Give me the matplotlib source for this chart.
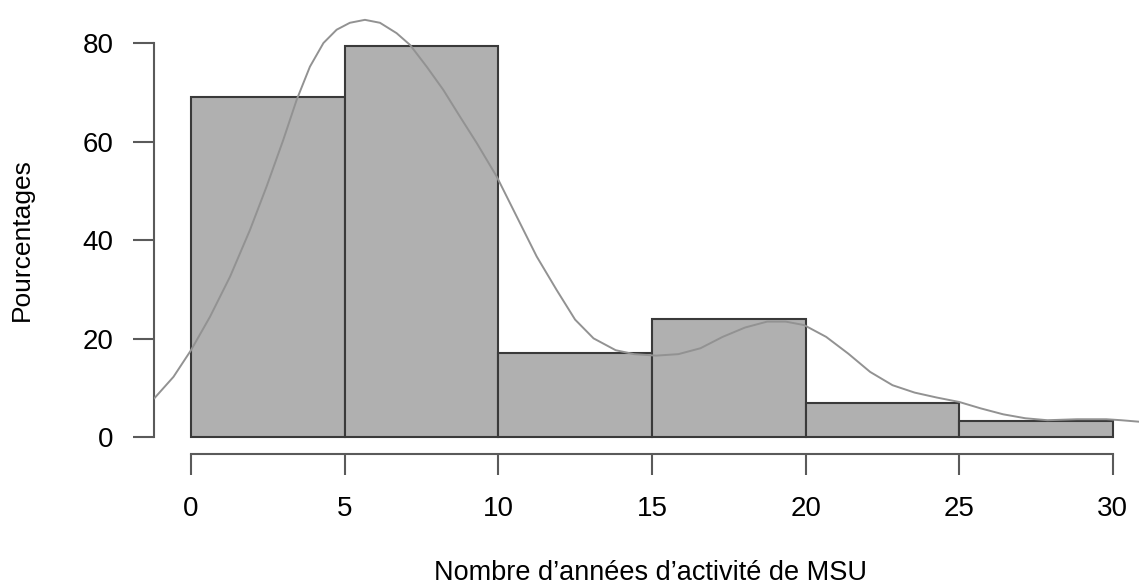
import matplotlib
matplotlib.use("Agg")
import matplotlib.pyplot as plt

plt.rcParams['font.family'] = ['Liberation Sans', 'DejaVu Sans']

# Histogram (bins of 5 years)
bin_edges = [0, 5, 10, 15, 20, 25, 30]
percentages = [69.0, 79.4, 17.2, 24.0, 6.9, 3.3]

# Density curve (scaled to percentages)
curve_x = [-1.2, -0.57, 0.0, 0.62, 1.27, 1.92, 2.46, 3.0, 3.44, 3.87, 4.31, 4.74,
           5.17, 5.66, 6.15, 6.69, 7.13, 7.67, 8.21, 8.75, 9.30, 9.95, 10.6, 11.25,
           11.9, 12.5, 13.1, 13.82, 14.42, 15.14, 15.86, 16.58, 17.3, 18.03, 18.75,
           19.35, 19.95, 20.67, 21.39, 22.1, 22.83, 23.55, 24.27, 25.0, 25.7, 26.43,
           27.15, 27.87, 28.83, 29.79, 30.27, 30.85]
curve_y = [7.9, 12.3, 17.7, 24.5, 32.6, 42.1, 50.9, 60.3, 68.5, 75.2, 80.0, 82.7,
           84.1, 84.7, 84.1, 82.0, 79.6, 75.2, 70.5, 65.1, 59.7, 52.9, 44.8, 36.7,
           29.9, 23.9, 20.1, 17.7, 16.9, 16.6, 16.9, 18.1, 20.4, 22.3, 23.5,
           23.5, 22.8, 20.4, 17.0, 13.3, 10.6, 9.1, 8.1, 7.2, 5.9, 4.7,
           3.9, 3.5, 3.7, 3.7, 3.5, 3.2]

y_ticks = [0, 20, 40, 60, 80]
x_ticks = [0, 5, 10, 15, 20, 25, 30]
x_label = "Nombre d\u2019années d\u2019activité de MSU"
y_label = "Pourcentages"

W, H = 1139, 588
fig = plt.figure(figsize=(W / 100, H / 100), dpi=100)
ax = fig.add_axes([154 / W, (H - 454) / H, (W - 154) / W, (454 - 8) / H])

widths = [bin_edges[i + 1] - bin_edges[i] for i in range(len(percentages))]
ax.bar(bin_edges[:-1], percentages, width=widths, align='edge',
       color='#b0b0b0', edgecolor='#3a3a3a', linewidth=1.5, zorder=2)
ax.plot(curve_x, curve_y, color='#929292', linewidth=1.4, zorder=3,
        solid_capstyle='round', solid_joinstyle='round')

ax.set_xlim(-1.204, 30.85)
ax.set_ylim(-3.35, 87.1)

for s in ['top', 'right']:
    ax.spines[s].set_visible(False)
axis_col = '#5a5a5a'
ax.spines['left'].set_bounds(0, 80)
ax.spines['bottom'].set_bounds(0, 30)
for s in ['left', 'bottom']:
    ax.spines[s].set_color(axis_col)
    ax.spines[s].set_linewidth(1.5)

ax.set_yticks(y_ticks)
ax.set_xticks(x_ticks)
ax.set_yticklabels([str(v) for v in y_ticks])
ax.set_xticklabels([str(v) for v in x_ticks])
ax.tick_params(axis='both', direction='out', length=15, width=1.5,
               color=axis_col, labelsize=20, labelcolor='black')
ax.tick_params(axis='y', pad=14)
ax.tick_params(axis='x', pad=15)

fig.text(651 / W, 8 / H, x_label, ha='center', va='baseline', fontsize=19.5)
fig.text(22 / W, (H - 240) / H, y_label, ha='center', va='center',
         rotation=90, fontsize=19)

fig.savefig('out.png', dpi=100)
